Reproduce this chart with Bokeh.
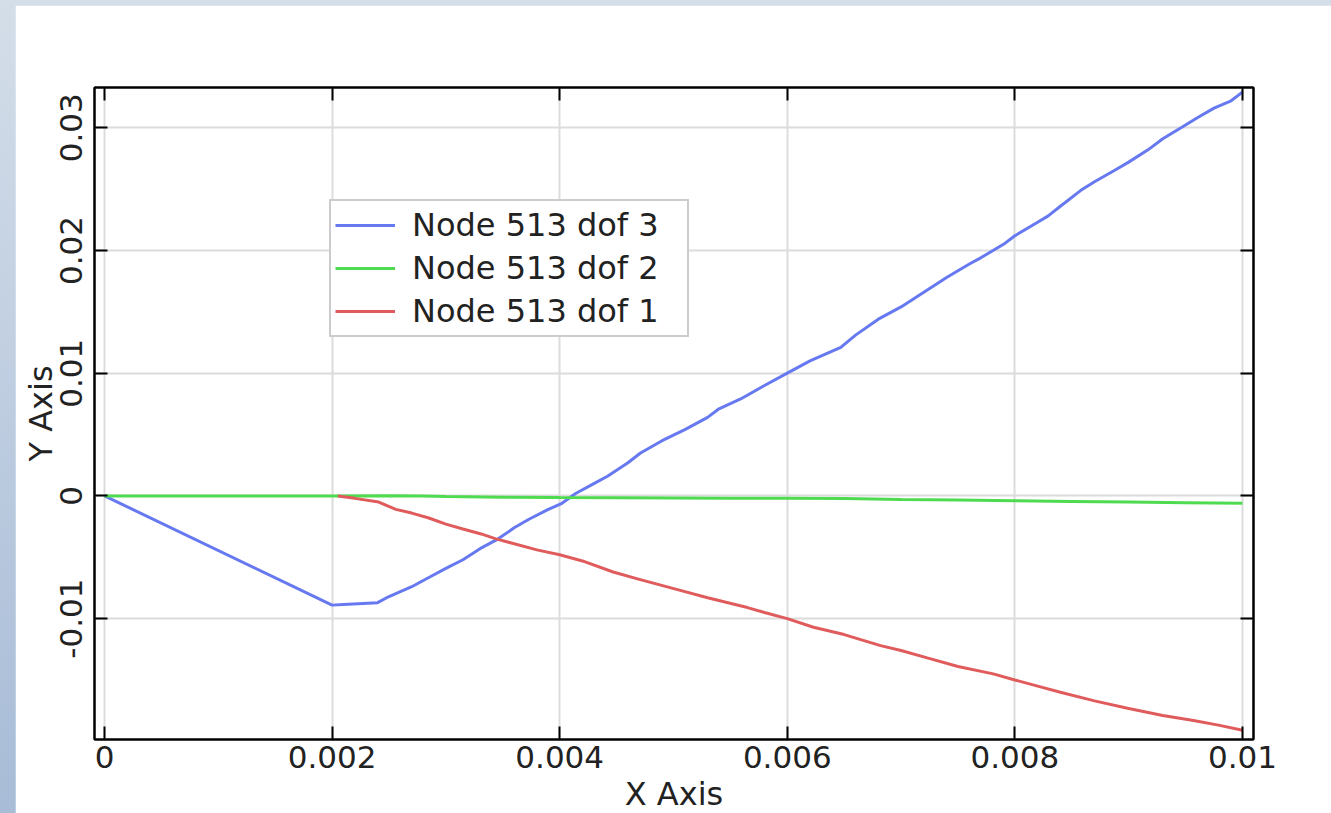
from bokeh.plotting import figure
from bokeh.models import (Range1d, LinearAxis, FixedTicker, Legend, LegendItem,
                          GlobalInlineStyleSheet)
from bokeh.embed import file_html
from bokeh.resources import INLINE

# ---- data ----
dof3_x = [0, 0.002, 0.0021, 0.0024, 0.0025, 0.0027, 0.00285, 0.0030, 0.00315, 0.0033,
          0.00346, 0.0036, 0.00373, 0.0039, 0.00402, 0.00414, 0.0043, 0.00442, 0.0046,
          0.00471, 0.0049, 0.0051, 0.0053, 0.0054, 0.00559, 0.0058, 0.0060, 0.0062,
          0.00647, 0.0066, 0.0068, 0.0070, 0.0072, 0.0074, 0.0076, 0.0077, 0.0079,
          0.0080, 0.0082, 0.00829, 0.0084, 0.00858, 0.0087, 0.00887, 0.0090, 0.00917,
          0.0093, 0.00946, 0.0096, 0.00975, 0.0099, 0.0100]
dof3_y = [0, -0.0089, -0.00885, -0.0087, -0.0082, -0.0074, -0.00665, -0.0059, -0.0052,
          -0.0043, -0.0035, -0.0026, -0.0019, -0.0011, -0.0006, 0.0002, 0.0010, 0.0016,
          0.0027, 0.0035, 0.0045, 0.0054, 0.0064, 0.0071, 0.0079, 0.0090, 0.0100, 0.0110,
          0.0121, 0.0131, 0.0144, 0.0154, 0.0166, 0.0178, 0.0189, 0.0194, 0.0205, 0.0212,
          0.0223, 0.0228, 0.0236, 0.0249, 0.0256, 0.0265, 0.0272, 0.0282, 0.0291, 0.0300,
          0.0308, 0.0316, 0.0322, 0.0329]

dof2_x = [0, 0.002, 0.0025, 0.0028, 0.0030, 0.0035, 0.0040, 0.0045, 0.0050, 0.0055,
          0.0060, 0.0065, 0.0070, 0.0075, 0.0080, 0.0085, 0.0090, 0.0095, 0.0100]
dof2_y = [0, 0, 0.00002, 0.0, -0.00005, -0.0001, -0.00013, -0.00015, -0.00018, -0.0002,
          -0.0002, -0.00022, -0.0003, -0.00033, -0.0004, -0.00045, -0.0005, -0.00055, -0.0006]

dof1_x = [0.00205, 0.0022, 0.00241, 0.00256, 0.0027, 0.00285, 0.0030, 0.00315, 0.00331,
          0.00344, 0.0036, 0.0038, 0.0040, 0.0042, 0.00447, 0.0047, 0.00506, 0.0053,
          0.00565, 0.0058, 0.0060, 0.00623, 0.0065, 0.00682, 0.0070, 0.00723, 0.0075,
          0.00781, 0.0080, 0.0082, 0.0084, 0.0087, 0.00899, 0.0093, 0.00957, 0.0098, 0.0100]
dof1_y = [0, -0.0002, -0.0005, -0.0011, -0.0014, -0.0018, -0.0023, -0.0027, -0.0031,
          -0.0035, -0.0039, -0.0044, -0.0048, -0.0053, -0.0062, -0.0068, -0.0077, -0.0083,
          -0.0091, -0.0095, -0.0100, -0.0107, -0.0113, -0.0122, -0.0126, -0.0132, -0.0139,
          -0.0145, -0.0150, -0.0155, -0.0160, -0.0167, -0.0173, -0.0179, -0.0183, -0.0187,
          -0.0191]

series_labels = ["Node 513 dof 3", "Node 513 dof 2", "Node 513 dof 1"]
series_colors = ["#6679f0", "#4fdb4f", "#e05c5c"]

x_ticks = [0, 0.002, 0.004, 0.006, 0.008, 0.01]
x_tick_labels = ["0", "0.002", "0.004", "0.006", "0.008", "0.01"]
y_ticks = [-0.01, 0, 0.01, 0.02, 0.03]
y_tick_labels = ["-0.01", "0", "0.01", "0.02", "0.03"]

FONT = "DejaVu Sans"
TICK_FS = "31px"
AXIS_FS = "32px"
LEG_FS = "32px"

p = figure(frame_width=1159, frame_height=652,
           x_range=Range1d(-0.0000879, 0.010097), y_range=Range1d(-0.01985, 0.03328),
           output_backend="svg", toolbar_location=None,
           min_border_left=79, min_border_right=78, min_border_top=82, min_border_bottom=74,
           background_fill_color="white", border_fill_color="white",
           x_axis_label="X Axis", y_axis_label="Y Axis")

p.stylesheets = [GlobalInlineStyleSheet(
    css="html, body { overflow: hidden; } "
        "body { padding: 5px 0 0 15px !important; box-sizing: border-box; "
        "background: linear-gradient(to bottom, #d4dee9, #a8bcd7); }")]

p.outline_line_color = "black"
p.outline_line_width = 2

xt = FixedTicker(ticks=x_ticks)
yt = FixedTicker(ticks=y_ticks)

for ax in p.xaxis:
    ax.ticker = xt
    ax.major_label_overrides = dict(zip(x_ticks, x_tick_labels))
for ax in p.yaxis:
    ax.ticker = yt
    ax.major_label_overrides = dict(zip(y_ticks, y_tick_labels))
    ax.major_label_orientation = "vertical"

for ax in list(p.xaxis) + list(p.yaxis):
    ax.axis_line_color = "black"
    ax.axis_line_width = 2
    ax.major_tick_in = 13
    ax.major_tick_out = 0
    ax.major_tick_line_width = 2
    ax.major_tick_line_color = "black"
    ax.minor_tick_line_color = None
    ax.major_label_text_font = FONT
    ax.major_label_text_font_size = TICK_FS
    ax.major_label_text_color = "#222222"
    ax.axis_label_text_font = FONT
    ax.axis_label_text_font_size = AXIS_FS
    ax.axis_label_text_font_style = "normal"
    ax.axis_label_text_color = "#222222"

p.xaxis.major_label_standoff = 6
p.xaxis.axis_label_standoff = 4
p.yaxis.major_label_standoff = 12
p.yaxis.axis_label_standoff = -2

top = LinearAxis(ticker=xt, major_label_overrides={t: "" for t in x_ticks},
                 major_tick_in=13, major_tick_out=0, major_tick_line_width=2,
                 minor_tick_line_color=None, axis_line_color="black", axis_line_width=2,
                 major_label_standoff=0)
right = LinearAxis(ticker=yt, major_label_overrides={t: "" for t in y_ticks},
                   major_tick_in=13, major_tick_out=0, major_tick_line_width=2,
                   minor_tick_line_color=None, axis_line_color="black", axis_line_width=2,
                   major_label_standoff=0)
p.add_layout(top, "above")
p.add_layout(right, "right")

p.grid.grid_line_color = "#dcdcdc"
p.grid.grid_line_width = 2

r3 = p.line(dof3_x, dof3_y, line_color=series_colors[0], line_width=3)
r2 = p.line(dof2_x, dof2_y, line_color=series_colors[1], line_width=3)
r1 = p.line(dof1_x, dof1_y, line_color=series_colors[2], line_width=3)

legend = Legend(items=[LegendItem(label=series_labels[0], renderers=[r3]),
                       LegendItem(label=series_labels[1], renderers=[r2]),
                       LegendItem(label=series_labels[2], renderers=[r1])],
                location=(235, 402), margin=0, padding=4, spacing=3,
                glyph_width=60, glyph_height=40, label_height=40, label_width=271,
                label_standoff=17,
                label_text_font=FONT, label_text_font_size=LEG_FS, label_text_color="#222222",
                border_line_color="#9a9a9a", border_line_width=2,
                background_fill_color="white", background_fill_alpha=1.0)
p.add_layout(legend)

open("out.html", "w").write(file_html(p, INLINE))
